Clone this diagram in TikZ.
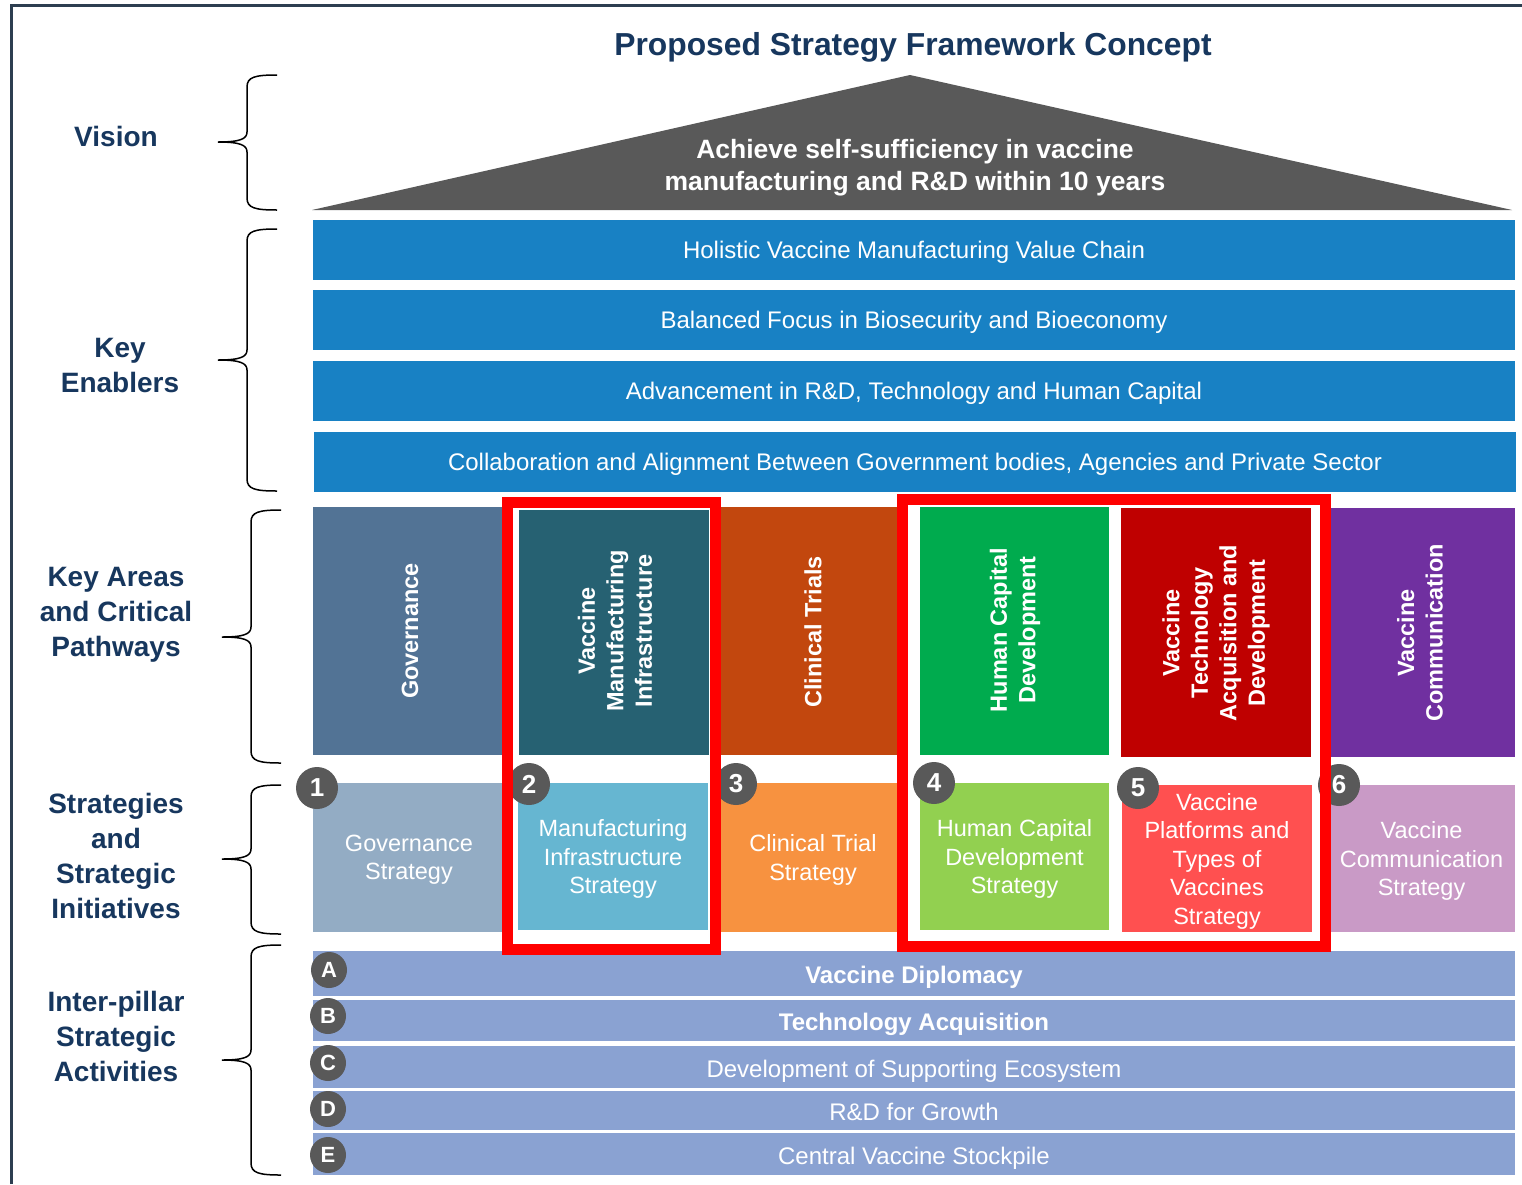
\documentclass[tikz,border=0pt]{standalone}
\usepackage{fontspec}
\setmainfont{Liberation Sans}
\definecolor{navy}{HTML}{17375E}
\definecolor{roofc}{HTML}{595959}
\definecolor{enabc}{HTML}{1881C4}
\definecolor{govP}{HTML}{527395}
\definecolor{govS}{HTML}{93ACC4}
\definecolor{mfgP}{HTML}{266172}
\definecolor{mfgS}{HTML}{66B6D1}
\definecolor{clinP}{HTML}{C2470E}
\definecolor{clinS}{HTML}{F79240}
\definecolor{hcP}{HTML}{00AB4E}
\definecolor{hcS}{HTML}{92D050}
\definecolor{vtP}{HTML}{BF0000}
\definecolor{vtS}{HTML}{FF5050}
\definecolor{vcP}{HTML}{7030A0}
\definecolor{vcS}{HTML}{C99AC6}
\definecolor{barc}{HTML}{8AA2D2}
\definecolor{framec}{HTML}{FF0000}
\definecolor{borderc}{HTML}{2D3E50}
\newcommand{\mybracepath}[5]{%
  \draw[bracestyle] (#1+30,#2) .. controls (#1+8,#2) and (#1,#2+2) .. (#1,#2+12)
    -- (#1,#3-10) .. controls (#1,#3-3) and (#1-7,#3) .. (#1-29,#3)
    .. controls (#1-7,#3) and (#1,#3+3) .. (#1,#3+10)
    -- (#1,#4-12) .. controls (#1,#4-2) and (#1+8,#4) .. (#1+30,#4);
  \coordinate (#5) at (#1-29,#3);}
\begin{document}
\begin{tikzpicture}[x=1pt,y=-1pt,
  bracestyle/.style={draw=black,line width=1.5pt},
  lbl/.style={font=\bfseries\fontsize{28}{35}\selectfont,text=navy,align=center},
  enab/.style={fill=enabc,minimum width=1202,minimum height=60,inner sep=0,text=white,text height=17,text depth=0,font=\fontsize{24}{28}\selectfont},
  pill/.style={inner sep=0},
  pilltext/.style={font=\bfseries\fontsize{23.5}{28.5}\selectfont,text=white,rotate=90,align=center},
  strat/.style={inner sep=0,text=white,align=center,text depth=0,font=\fontsize{23.5}{28.5}\selectfont},
  numc/.style={circle,fill=roofc,minimum size=42,inner sep=0,text=white,font=\bfseries\fontsize{26}{26}\selectfont},
  letc/.style={circle,fill=roofc,minimum size=36,inner sep=0,text=white,font=\bfseries\fontsize{22}{22}\selectfont},
  bar/.style={fill=barc,minimum width=1202,inner sep=0,text=white,text height=20,text depth=0,font=\fontsize{24}{28}\selectfont},
  barb/.style={bar,font=\bfseries\fontsize{24}{28}\selectfont},
  redframe/.style={draw=framec,line width=11pt}]
\useasboundingbox (0,0) rectangle (1522,1184);
\fill[white] (0,0) rectangle (1522,1184);
% border
\draw[borderc,line width=3pt] (11,1184) -- (11,5) -- (1522,5);
% title
\node[font=\bfseries\fontsize{31.8}{36}\selectfont,text=navy] (title) at (913,47) {Proposed Strategy Framework Concept};
% roof
\fill[roofc] (312,210) -- (910,75) -- (1512,210) -- cycle;
\node[font=\bfseries\fontsize{26.5}{32}\selectfont,text=white,align=center] (vision) at (915,168) {Achieve self-sufficiency in vaccine\\manufacturing and R\&D within 10 years};
% enablers
\node[enab] (e1) at (914,250) {Holistic Vaccine Manufacturing Value Chain};
\node[enab] (e2) at (914,320) {Balanced Focus in Biosecurity and Bioeconomy};
\node[enab] (e3) at (914,391) {Advancement in R\&D, Technology and Human Capital};
\node[enab] (e4) at (915,462) {Collaboration and Alignment Between Government bodies, Agencies and Private Sector};
% pillars
\node[pill,fill=govP,minimum width=192,minimum height=248] (p1) at (409,631) {};
\node[pill,fill=mfgP,minimum width=190,minimum height=245] (p2) at (614,632.5) {};
\node[pill,fill=clinP,minimum width=184,minimum height=248] (p3) at (808,631) {};
\node[pill,fill=hcP,minimum width=189,minimum height=248] (p4) at (1014.5,631) {};
\node[pill,fill=vtP,minimum width=190,minimum height=249] (p5) at (1216,632.5) {};
\node[pill,fill=vcP,minimum width=187,minimum height=249] (p6) at (1421.5,632.5) {};
\node[pilltext] (p1t) at (410,631) {Governance};
\node[pilltext] (p2t) at (615,631) {Vaccine\\Manufacturing\\Infrastructure};
\node[pilltext] (p3t) at (813,632) {Clinical Trials};
\node[pilltext] (p4t) at (1015,630) {Human Capital\\Development};
\node[pilltext] (p5t) at (1216,633) {Vaccine\\Technology\\Acquisition and\\Development};
\node[pilltext] (p6t) at (1420,633) {Vaccine\\Communication};
% strategies
\node[strat,fill=govS,minimum width=192,minimum height=149] (s1) at (409,857.5) {Governance\\Strategy};
\node[strat,fill=mfgS,minimum width=190,minimum height=147] (s2) at (613,856.5) {Manufacturing\\Infrastructure\\Strategy};
\node[strat,fill=clinS,minimum width=184,minimum height=149] (s3) at (808,857.5) {};
\node[strat] (s3t) at (813,857.5) {Clinical Trial\\Strategy};
\node[strat,fill=hcS,minimum width=189,minimum height=147] (s4) at (1014.5,856.5) {Human Capital\\Development\\Strategy};
\node[strat,fill=vtS,minimum width=190,minimum height=147] (s5) at (1217,858.5) {Vaccine\\Platforms and\\Types of\\Vaccines\\Strategy};
\node[strat,fill=vcS,minimum width=187,minimum height=147] (s6) at (1421.5,858.5) {Vaccine\\Communication\\Strategy};
% inter-pillar bars
\node[barb,minimum height=45] (ba) at (914,973.5) {Vaccine Diplomacy};
\node[barb,minimum height=41] (bb) at (914,1020.5) {Technology Acquisition};
\node[bar,minimum height=42] (bc) at (914,1067) {Development of Supporting Ecosystem};
\node[bar,minimum height=39] (bd) at (914,1110.5) {R\&D for Growth};
\node[bar,minimum height=42] (be) at (914,1154) {Central Vaccine Stockpile};
% numbered circles
\node[numc] (n1) at (317,788) {1};
\node[numc] (n2) at (529,784) {2};
\node[numc] (n3) at (736,784) {3};
\node[numc] (n4) at (934,783) {4};
\node[numc] (n5) at (1138,788) {5};
\node[numc] (n6) at (1339,785) {6};
\node[letc] (la) at (329,970) {A};
\node[letc] (lb) at (328,1016) {B};
\node[letc] (lc) at (328,1063) {C};
\node[letc] (ld) at (328,1109) {D};
\node[letc] (le) at (328,1155) {E};
% red frames
\draw[redframe] (507.5,502.5) rectangle (715.5,949.5);
\draw[redframe] (902.5,499.5) rectangle (1325.5,946.5);
% braces and labels
\mybracepath{247}{75}{142}{210}{bv}
\mybracepath{247}{229}{360}{491}{bk}
\mybracepath{251}{510}{637}{763}{ba2}
\mybracepath{251}{785}{859}{934}{bs}
\mybracepath{251}{945}{1060}{1175}{bi}
\node[lbl] (l1) at (116,136) {Vision};
\node[lbl] (l2) at (120,365) {Key\\Enablers};
\node[lbl] (l3) at (116,615) {Key Areas\\and Critical\\Pathways};
\node[lbl] (l4) at (116,856) {Strategies\\and\\Strategic\\Initiatives};
\node[lbl] (l5) at (116,1036.5) {Inter-pillar\\Strategic\\Activities};
\end{tikzpicture}
\end{document}
